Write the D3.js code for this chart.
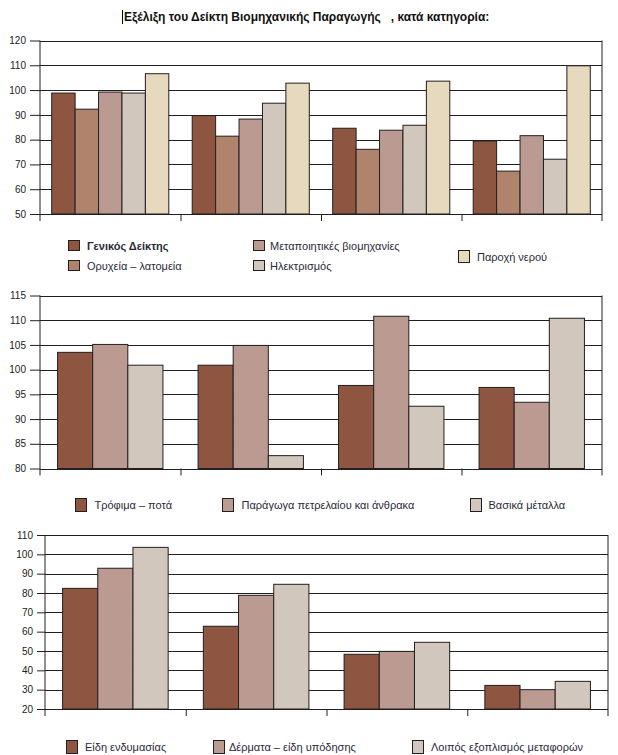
<!DOCTYPE html>
<html><head><meta charset="utf-8">
<script src="https://cdn.jsdelivr.net/npm/d3@7"></script>
<style>
html,body{margin:0;padding:0;background:#fff;}
svg{display:block;font-family:"Liberation Sans",Arial,sans-serif;}
</style></head>
<body>
<svg id="chart" width="618" height="755"></svg>
<script>
// ---------- DATA ----------
const title = "Εξέλιξη του Δείκτη Βιομηχανικής Παραγωγής   , κατά κατηγορία:";
const groups = ["Ομάδα 1", "Ομάδα 2", "Ομάδα 3", "Ομάδα 4"];

// Panel 1
const p1Series = ["Γενικός Δείκτης", "Ορυχεία – λατομεία", "Μεταποιητικές βιομηχανίες", "Ηλεκτρισμός", "Παροχή νερού"];
const p1General     = [98.8, 89.7, 84.6, 79.4];
const p1Mining      = [92.3, 81.4, 76.1, 67.3];
const p1Manufacture = [99.2, 88.3, 83.8, 81.6];
const p1Electricity = [98.8, 94.7, 85.8, 72.1];
const p1Water       = [106.6, 102.8, 103.6, 109.8];
const p1Ticks = [50, 60, 70, 80, 90, 100, 110, 120];

// Panel 2
const p2Series = ["Τρόφιμα – ποτά", "Παράγωγα πετρελαίου και άνθρακα", "Βασικά μέταλλα"];
const p2Food   = [103.5, 100.9, 96.8, 96.4];
const p2Oil    = [105.1, 104.9, 110.8, 93.4];
const p2Metals = [100.9, 82.6, 92.6, 110.4];
const p2Ticks = [80, 85, 90, 95, 100, 105, 110, 115];

// Panel 3
const p3Series = ["Είδη ενδυμασίας", "Δέρματα – είδη υπόδησης", "Λοιπός εξοπλισμός μεταφορών"];
const p3Clothing  = [82.4, 62.8, 48.3, 32.2];
const p3Leather   = [92.8, 78.8, 49.8, 30.0];
const p3Transport = [103.6, 84.5, 54.5, 34.3];
const p3Ticks = [20, 30, 40, 50, 60, 70, 80, 90, 100, 110];

// ---------- STYLE ----------
const cDark = "#8E5540", cMid = "#B0836D", cMauve = "#BB9B91", cGrey = "#D2C7BD", cCream = "#E7D9BE";
const ink = "#231F20";

const svg = d3.select("#chart");

// title
svg.append("line").attr("x1", 122.5).attr("x2", 122.5).attr("y1", 10).attr("y2", 24)
  .attr("stroke", "#000").attr("stroke-width", 1);
svg.append("text").attr("x", 124).attr("y", 20.5)
  .attr("font-size", 12).attr("font-weight", "bold").attr("fill", "#111")
  .style("white-space", "pre").attr("xml:space", "preserve")
  .text(title);

function panel(cfg) {
  const g = svg.append("g");
  const x0 = d3.scaleBand().domain(groups).range([cfg.left, cfg.right]).paddingInner(0).paddingOuter(0);
  const x1 = d3.scaleBand().domain(cfg.series).range([0, x0.bandwidth()]).paddingInner(0).paddingOuter(0.5);
  const y = d3.scaleLinear().domain(cfg.domain).range([cfg.bottom, cfg.top]);

  // gridlines
  g.append("g").selectAll("line").data(cfg.ticks).join("line")
    .attr("x1", cfg.left).attr("x2", cfg.right)
    .attr("y1", d => Math.round(y(d)) + 0.5).attr("y2", d => Math.round(y(d)) + 0.5)
    .attr("stroke", ink).attr("stroke-width", 1);

  // bars
  const data = groups.map((gName, i) => ({
    group: gName,
    vals: cfg.series.map((s, j) => ({ s, v: cfg.values[j][i], c: cfg.colors[j] }))
  }));
  g.append("g").selectAll("g").data(data).join("g")
    .attr("transform", d => `translate(${x0(d.group)},0)`)
    .selectAll("rect").data(d => d.vals).join("rect")
    .attr("x", d => x1(d.s))
    .attr("y", d => y(d.v))
    .attr("width", x1.bandwidth())
    .attr("height", d => y(cfg.domain[0]) - y(d.v))
    .attr("fill", d => d.c)
    .attr("stroke", ink).attr("stroke-width", 1);

  // left axis
  const ax = d3.axisLeft(y).tickValues(cfg.ticks).tickSize(cfg.tickLen).tickPadding(4);
  const axG = g.append("g").attr("transform", `translate(${cfg.left},0)`).call(ax);
  axG.select(".domain").remove();
  axG.selectAll(".tick line").attr("stroke", ink);
  axG.selectAll(".tick text").attr("font-size", 10).attr("fill", "#222")
    .attr("font-family", "Liberation Sans, Arial, sans-serif");
  g.append("line").attr("x1", cfg.left).attr("x2", cfg.left)
    .attr("y1", cfg.top).attr("y2", cfg.bottom + 7).attr("stroke", ink);
  // right border
  g.append("line").attr("x1", cfg.right).attr("x2", cfg.right)
    .attr("y1", cfg.top).attr("y2", cfg.bottom + 7).attr("stroke", ink);
  // bottom ticks at group boundaries
  g.append("g").selectAll("line").data(groups.slice(1)).join("line")
    .attr("x1", d => x0(d) + 0.5).attr("x2", d => x0(d) + 0.5)
    .attr("y1", cfg.bottom).attr("y2", cfg.bottom + 7).attr("stroke", ink);

  // legend
  const lg = g.append("g");
  cfg.legend.forEach((L, j) => {
    lg.append("rect").attr("x", L.sx).attr("y", L.sy).attr("width", 11).attr("height", L.sh || 11)
      .attr("fill", cfg.colors[j]).attr("stroke", ink).attr("stroke-width", 1);
    lg.append("text").attr("x", L.tx).attr("y", L.ty)
      .attr("font-size", 11).attr("fill", "#2a2a3a")
      .attr("font-weight", L.bold ? "bold" : "normal")
      .text(cfg.series[j]);
  });
}

panel({
  left: 40, right: 602, top: 40.5, bottom: 214, domain: [50, 120], ticks: p1Ticks, tickLen: 10,
  series: p1Series, values: [p1General, p1Mining, p1Manufacture, p1Electricity, p1Water],
  colors: [cDark, cMid, cMauve, cGrey, cCream],
  legend: [
    { sx: 68.5, sy: 240.5, sh: 10, tx: 87, ty: 250, bold: true },
    { sx: 68.5, sy: 260.5, sh: 10, tx: 87, ty: 269.5 },
    { sx: 253.5, sy: 240.5, sh: 10, tx: 270, ty: 250 },
    { sx: 253.5, sy: 260.5, sh: 10, tx: 270, ty: 269.5 },
    { sx: 458.5, sy: 250.5, sh: 12, tx: 477, ty: 261 }
  ]
});

panel({
  left: 40, right: 602, top: 295.5, bottom: 468.5, domain: [80, 115], ticks: p2Ticks, tickLen: 10,
  series: p2Series, values: [p2Food, p2Oil, p2Metals],
  colors: [cDark, cMauve, cGrey],
  legend: [
    { sx: 75.5, sy: 498.5, sh: 13, tx: 94.5, ty: 509 },
    { sx: 222.5, sy: 498.5, sh: 13, tx: 241.5, ty: 509 },
    { sx: 470.5, sy: 498.5, sh: 13, tx: 488.5, ty: 509 }
  ]
});

panel({
  left: 45, right: 608, top: 535, bottom: 709, domain: [20, 110], ticks: p3Ticks, tickLen: 8,
  series: p3Series, values: [p3Clothing, p3Leather, p3Transport],
  colors: [cDark, cMauve, cGrey],
  legend: [
    { sx: 66.5, sy: 740.5, sh: 13, tx: 85, ty: 751 },
    { sx: 213.5, sy: 740.5, sh: 13, tx: 229, ty: 751 },
    { sx: 412.5, sy: 740.5, sh: 13, tx: 431, ty: 751 }
  ]
});
</script>
</body></html>
